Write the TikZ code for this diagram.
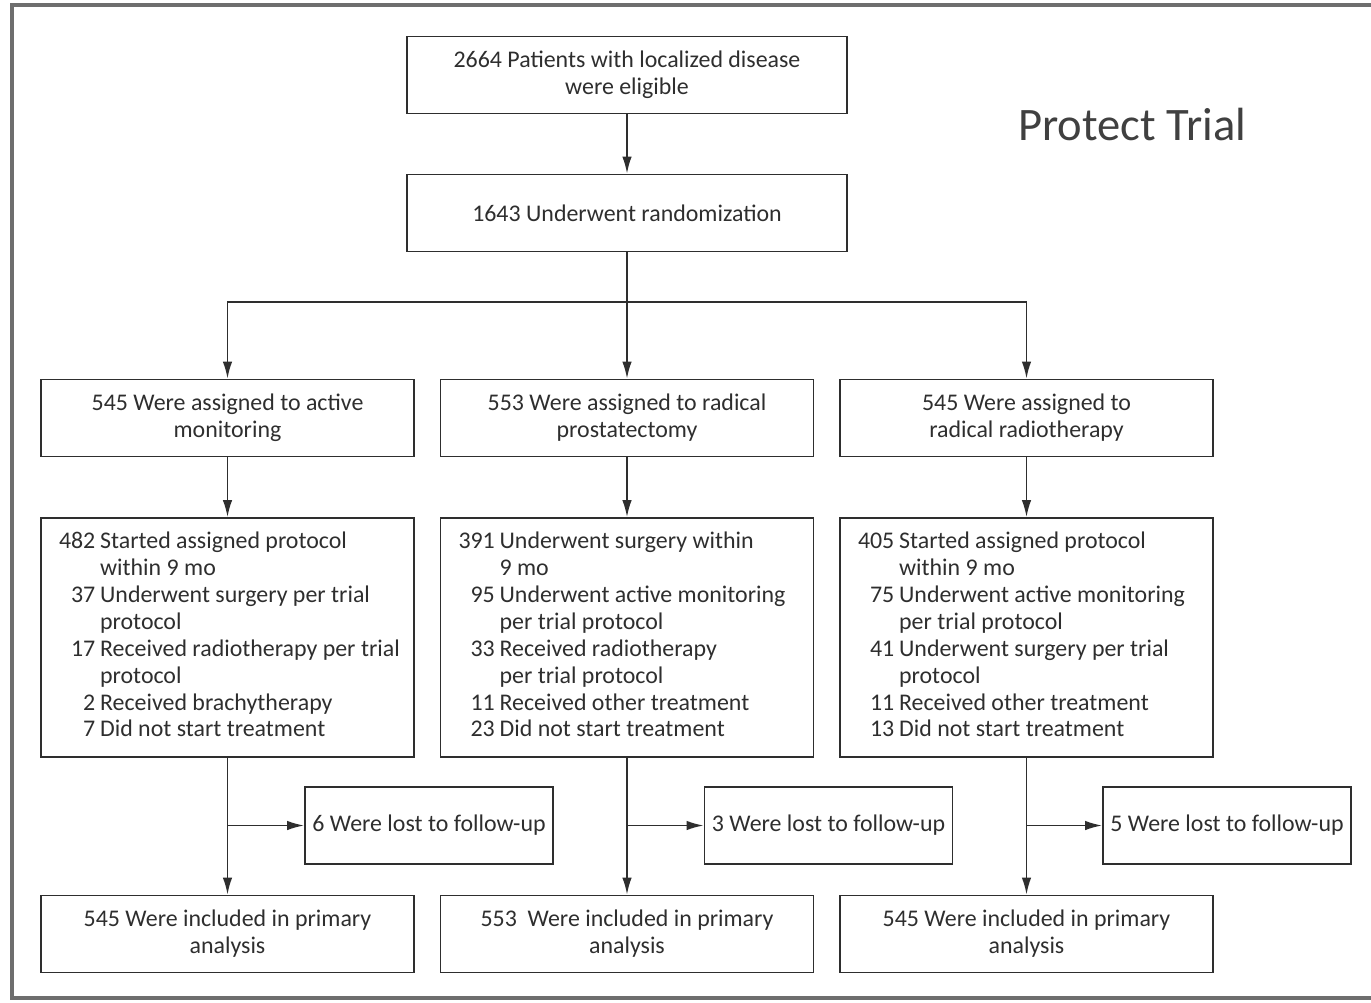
\documentclass[tikz,border=0pt]{standalone}
\usepackage{fontspec}
\setmainfont{Carlito}
\usetikzlibrary{arrows.meta,positioning}

\definecolor{framegray}{HTML}{6E6E6E}
\definecolor{inkgray}{HTML}{2E2E2E}
\definecolor{titlegray}{HTML}{404040}
\newcommand{\boxfont}{\fontsize{13.6}{15.3}\selectfont}
\newenvironment{tally}{\spaceskip=0pt\xspaceskip=0pt\relax
  \begin{tabular}{@{}r@{\hspace{0.2em}}l@{}}}{\end{tabular}}

\begin{document}
\begin{tikzpicture}[>={Latex[length=0.34cm,width=0.19cm]},
  box/.style={draw=inkgray, text=inkgray, line width=1pt, minimum width=7.46cm,
    minimum height=1.54cm, inner sep=0pt, align=center, font=\boxfont},
  topbox/.style={box, minimum width=8.8cm},
  listbox/.style={box, minimum height=4.78cm, inner xsep=0.36cm, text width=6.74cm, align=left},
  lostbox/.style={box, minimum width=4.96cm},
  link/.style={draw=inkgray, line width=1pt}]
  \useasboundingbox (0,0) rectangle (27.42,-20.06);
  \draw[framegray, line width=1.8pt] (27.5,-0.10) -- (0.24,-0.10) -- (0.24,-19.96) -- (27.5,-19.96);

  % top of the chart
  \node[topbox] (elig) at (12.54,-1.5) {2664 Patients with localized disease\\were eligible};
  \node[topbox] (rand) at (12.54,-4.26) {1643 Underwent randomization};
  \node[font=\fontsize{26.5}{30}\selectfont, text=titlegray] (title) at (22.64,-2.49) {Protect Trial};
  \coordinate (split) at (12.54,-6.04);

  % assigned groups
  \node[box] (am) at (4.55,-8.36) {545 Were assigned to active\\monitoring};
  \node[box] (rp) at (12.54,-8.36) {553 Were assigned to radical\\prostatectomy};
  \node[box] (rr) at (20.53,-8.36) {545 Were assigned to\\radical radiotherapy};

  % treatment received
  \node[listbox] (am-list) at (4.55,-12.75) {\begin{tally}
    482 & Started assigned protocol\\ & within 9 mo\\
    37 & Underwent surgery per trial\\ & protocol\\
    17 & Received radiotherapy per trial\\ & protocol\\
    2 & Received brachytherapy\\
    7 & Did not start treatment\end{tally}};
  \node[listbox] (rp-list) at (12.54,-12.75) {\begin{tally}
    391 & Underwent surgery within\\ & 9 mo\\
    95 & Underwent active monitoring\\ & per trial protocol\\
    33 & Received radiotherapy\\ & per trial protocol\\
    11 & Received other treatment\\
    23 & Did not start treatment\end{tally}};
  \node[listbox] (rr-list) at (20.53,-12.75) {\begin{tally}
    405 & Started assigned protocol\\ & within 9 mo\\
    75 & Underwent active monitoring\\ & per trial protocol\\
    41 & Underwent surgery per trial\\ & protocol\\
    11 & Received other treatment\\
    13 & Did not start treatment\end{tally}};

  % follow-up
  \node[lostbox] (am-lost) at (8.58,-16.51) {6 Were lost to follow-up};
  \node[lostbox] (rp-lost) at (16.57,-16.51) {3 Were lost to follow-up};
  \node[lostbox] (rr-lost) at (24.54,-16.51) {5 Were lost to follow-up};

  \node[box] (am-incl) at (4.55,-18.68) {545 Were included in primary\\analysis};
  \node[box] (rp-incl) at (12.54,-18.68) {553\ \ Were included in primary\\analysis};
  \node[box] (rr-incl) at (20.53,-18.68) {545 Were included in primary\\analysis};

  % connectors
  \draw[link,->] (elig) -- (rand);
  \draw[link] (rand) -- (split);
  \draw[link,->] (split) -| (am);
  \draw[link,->] (split) -- (rp);
  \draw[link,->] (split) -| (rr);
  \foreach \g in {am,rp,rr} {
    \draw[link,->] (\g) -- (\g-list);
    \draw[link,->] (\g-list) -- (\g-incl);
    \draw[link,->] (\g-list |- \g-lost) -- (\g-lost);
  }
\end{tikzpicture}
\end{document}
